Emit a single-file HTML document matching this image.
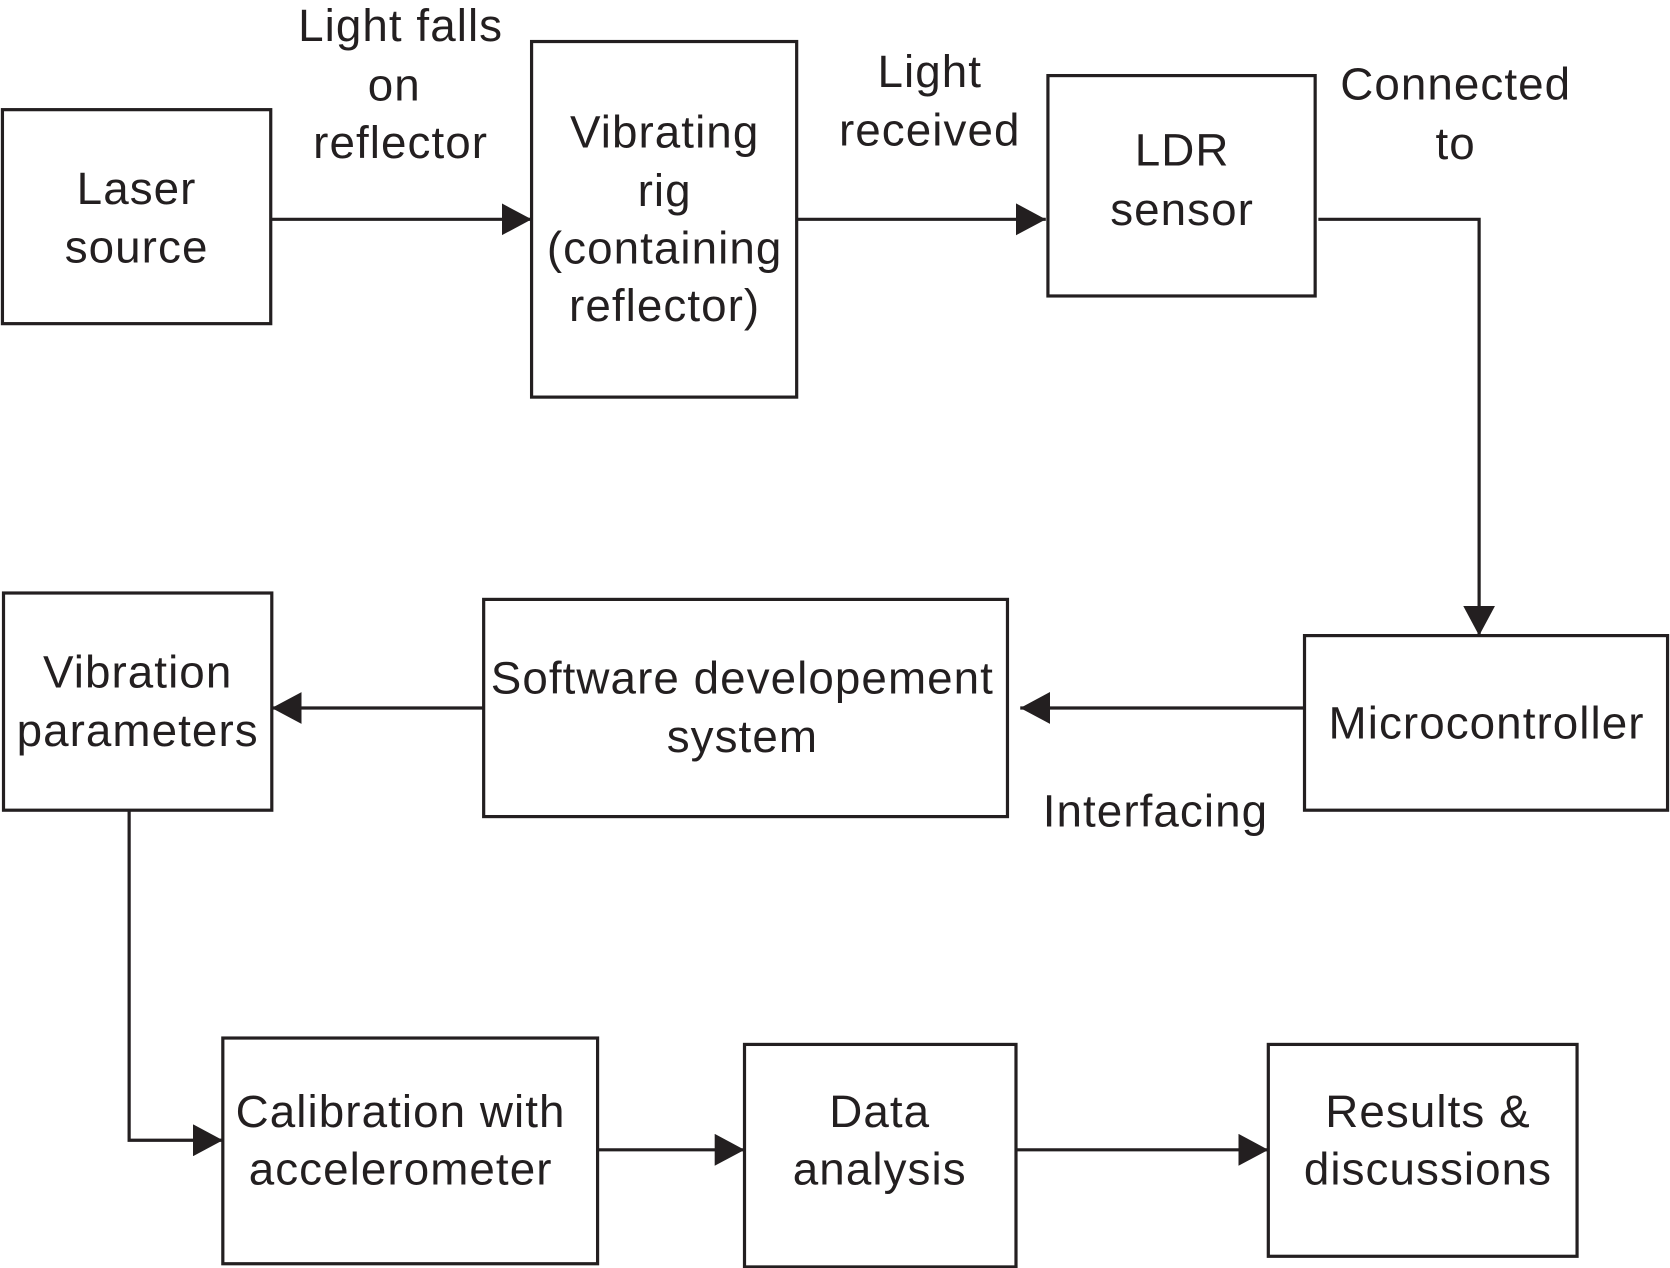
<!DOCTYPE html>
<html><head><style>html,body{margin:0;padding:0;background:#fff}svg{display:block}</style></head>
<body>
<svg width="1670" height="1268" viewBox="0 0 1568 1191" xmlns="http://www.w3.org/2000/svg">
<defs>
<marker id="b" markerWidth="28" markerHeight="30" refX="28" refY="15" orient="auto" markerUnits="userSpaceOnUse"><path d="M0,0 L28,15 L0,30z" fill="#231f20"/></marker></defs>
<g fill="none" stroke="#231f20" stroke-width="3">
<rect x="2" y="103" width="252" height="201"/>
<rect x="499" y="39" width="249" height="334"/>
<rect x="984" y="71" width="251" height="207"/>
<rect x="1225" y="597" width="341" height="164"/>
<rect x="454" y="563" width="492" height="204"/>
<rect x="3" y="557" width="252" height="204"/>
<rect x="209" y="975" width="352" height="212"/>
<rect x="699" y="981" width="255" height="209"/>
<rect x="1191" y="981" width="290" height="199"/>
<g marker-end="url(#b)">
<path d="M254,206 H499"/>
<path d="M748,206 H982"/>
<path d="M1238,206 H1389 V597"/>
<path d="M1225,665 H958"/>
<path d="M454,665 H255"/>
<path d="M121,761 V1071 H209"/>
<path d="M561,1080 H699"/>
<path d="M954,1080 H1191"/>
</g></g>
<g font-family="Liberation Sans, sans-serif" font-size="43" letter-spacing="1" fill="#231f20" text-anchor="middle" dominant-baseline="central">
<text x="128" y="177">Laser</text><text x="128" y="232">source</text>
<text x="624" y="124">Vibrating</text><text x="624" y="179">rig</text><text x="624" y="233">(containing</text><text x="624" y="287">reflector)</text>
<text x="1110" y="141">LDR</text><text x="1110" y="197">sensor</text>
<text x="1396" y="679">Microcontroller</text>
<text x="697" y="637">Software developement</text><text x="697" y="692">system</text>
<text x="129" y="631">Vibration</text><text x="129" y="686">parameters</text>
<text x="376" y="1044">Calibration with</text><text x="376" y="1098">accelerometer</text>
<text x="826" y="1044">Data</text><text x="826" y="1098">analysis</text>
<text x="1341" y="1044">Results &amp;</text><text x="1341" y="1098">discussions</text>
<text x="376" y="24">Light falls</text><text x="370" y="80">on</text><text x="376" y="134">reflector</text>
<text x="873" y="67">Light</text><text x="873" y="122">received</text>
<text x="1367" y="79">Connected</text><text x="1367" y="135">to</text>
<text x="1085" y="762">Interfacing</text>
</g>
</svg>
</body></html>
